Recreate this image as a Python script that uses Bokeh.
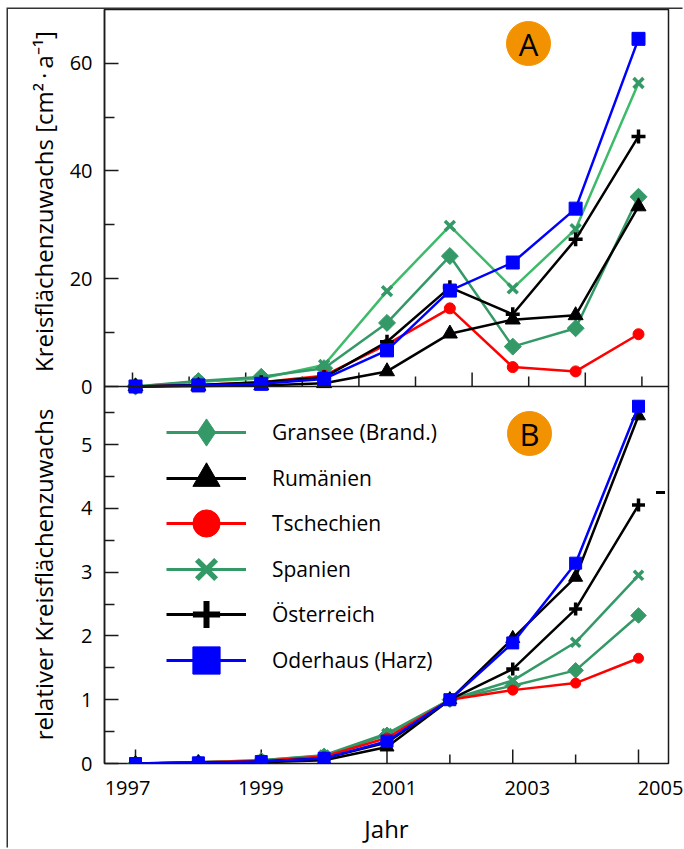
import math
from bokeh.plotting import figure
from bokeh.layouts import row
from bokeh.models import Range1d, LinearAxis, FixedTicker, Span, Label, Legend, LegendItem
from bokeh.embed import file_html
from bokeh.resources import INLINE

# ---------------- data ----------------
years = [1997, 1998, 1999, 2000, 2001, 2002, 2003, 2004, 2005]

# Panel A: Kreisflächenzuwachs [cm²·a⁻¹]
gransee_a     = [0.0, 1.0, 1.8, 3.4, 11.8, 24.2, 7.4, 10.8, 35.2]
rumaenien_a   = [0.0, 0.1, 0.2, 0.6, 2.8, 9.8, 12.4, 13.2, 33.4]
tschechien_a  = [0.0, 0.3, 0.8, 2.0, 7.8, 14.5, 3.6, 2.8, 9.7]
spanien_a     = [0.0, 0.9, 1.5, 4.0, 17.7, 29.8, 18.2, 29.2, 56.3]
oesterreich_a = [0.0, 0.3, 0.8, 1.7, 8.3, 18.4, 13.4, 27.3, 46.4]
oderhaus_a    = [0.0, 0.2, 0.5, 1.4, 6.7, 17.8, 23.0, 33.0, 64.5]

# Panel B: relativer Kreisflächenzuwachs
gransee_b     = [0.0, 0.02, 0.05, 0.12, 0.45, 1.0, 1.22, 1.46, 2.32]
rumaenien_b   = [0.0, 0.01, 0.02, 0.05, 0.26, 1.0, 1.96, 2.92, 5.45]
tschechien_b  = [0.0, 0.02, 0.04, 0.11, 0.40, 1.0, 1.15, 1.26, 1.65]
spanien_b     = [0.0, 0.02, 0.05, 0.13, 0.47, 1.0, 1.30, 1.90, 2.95]
oesterreich_b = [0.0, 0.01, 0.03, 0.08, 0.33, 1.0, 1.48, 2.42, 4.05]
oderhaus_b    = [0.0, 0.01, 0.03, 0.08, 0.35, 1.0, 1.89, 3.14, 5.60]

series_names = ["Gransee (Brand.)", "Rumänien", "Tschechien", "Spanien", "Österreich", "Oderhaus (Harz)"]

a_major_ticks = [0, 20, 40, 60]
a_minor_ticks = [10, 30, 50]
b_major_ticks = [0, 1, 2, 3, 4, 5]
b_minor_ticks = [0.5, 1.5, 2.5, 3.5, 4.5, 5.5]
year_major_ticks = [1997, 1999, 2001, 2003, 2005]
year_minor_ticks = [1998, 2000, 2002, 2004]

title_a = "Kreisflächenzuwachs [cm²\u2009·\u2009a⁻¹]"
title_b = "relativer Kreisflächenzuwachs"
title_x = "Jahr"

# ---------------- layout constants (page pixels) ----------------
FONT = "Open Sans"
PAGE_W, PAGE_H = 684, 849
ORIG_X, ORIG_Y = 8, 9            # top-left of the drawing (outer rule lines)
TITLE_W = 56                      # strip holding the rotated y titles
FRAME_L, FRAME_R, FRAME_T, FRAME_B = 104, 668, 9, 763
X1997_PX, PX_PER_YEAR = 135.0, 62.875
LAB1997_PX, LAB_PX_PER_YEAR = 127.0, 66.625
A_ZERO_PX, PX_PER_A = 386.0, 5.39
PX_PER_B = 63.8
INK = "#1a1a1a"


def px_to_year(px):
    return 1997 + (px - X1997_PX) / PX_PER_YEAR


def py_to_b(py):
    return (FRAME_B - py) / PX_PER_B


def a_to_b(v):
    return (FRAME_B - A_ZERO_PX + v * PX_PER_A) / PX_PER_B


MAIN_X = ORIG_X + TITLE_W
MAIN_W = PAGE_W - MAIN_X
MAIN_H = PAGE_H - ORIG_Y

# ---------------- strip with the two y titles (same vertical frame as the plot) ----------------
tfig = figure(width=TITLE_W, height=MAIN_H,
              x_range=Range1d(0, TITLE_W), y_range=Range1d(PAGE_H - FRAME_B, PAGE_H - FRAME_T),
              x_axis_type=None, y_axis_type=None, output_backend="svg", toolbar_location=None,
              min_border_left=0, min_border_right=0,
              min_border_top=FRAME_T - ORIG_Y, min_border_bottom=PAGE_H - FRAME_B,
              outline_line_color=None, background_fill_color="white", border_fill_color="white")
for txt, cy in [(title_a, 201), (title_b, 574)]:
    tfig.add_layout(Label(x=43 - ORIG_X, y=PAGE_H - cy, text=txt, angle=math.pi / 2,
                          text_align="center", text_baseline="middle",
                          text_font=FONT, text_font_size="24px", text_color="black"))

# ---------------- main plot ----------------
x_range = Range1d(px_to_year(FRAME_L), px_to_year(FRAME_R))
y_range = Range1d(0, py_to_b(FRAME_T))

p = figure(width=MAIN_W, height=MAIN_H, x_range=x_range, y_range=y_range,
           x_axis_type=None, y_axis_type=None,
           output_backend="svg", toolbar_location=None,
           min_border_left=FRAME_L - MAIN_X, min_border_right=PAGE_W - FRAME_R,
           min_border_top=FRAME_T - ORIG_Y, min_border_bottom=PAGE_H - FRAME_B,
           background_fill_color="white", border_fill_color="white",
           outline_line_color=INK, outline_line_width=1.5)

p.extra_y_ranges = {"A": Range1d((A_ZERO_PX - FRAME_B) / PX_PER_A, (A_ZERO_PX - FRAME_T) / PX_PER_A)}
p.extra_x_ranges = {"lab": Range1d(1997 + (FRAME_L - LAB1997_PX) / LAB_PX_PER_YEAR,
                                   1997 + (FRAME_R - LAB1997_PX) / LAB_PX_PER_YEAR)}

# y axis: panel B ticks (0..5) and panel A ticks (0..60) on one axis
y_major = list(b_major_ticks) + [a_to_b(v) for v in a_major_ticks]
y_minor = list(b_minor_ticks) + [a_to_b(v) for v in a_minor_ticks]
overrides = {t: str(t) for t in b_major_ticks}
overrides.update({a_to_b(v): str(v) for v in a_major_ticks})

yaxis = LinearAxis(ticker=FixedTicker(ticks=y_major, minor_ticks=y_minor),
                   major_label_overrides=overrides,
                   major_tick_in=14, major_tick_out=0, minor_tick_in=10, minor_tick_out=0,
                   major_tick_line_width=1.5, minor_tick_line_width=1.5,
                   major_tick_line_color=INK, minor_tick_line_color=INK,
                   axis_line_width=1.5, axis_line_color=INK,
                   major_label_text_font=FONT, major_label_text_font_size="20px",
                   major_label_text_color="black", major_label_standoff=12)
p.add_layout(yaxis, "left")

# x axis: labels (as in the original they sit on their own scale), tick marks drawn at the years
lab_axis = LinearAxis(x_range_name="lab",
                      ticker=FixedTicker(ticks=year_major_ticks, minor_ticks=[]),
                      major_tick_in=0, major_tick_out=0, minor_tick_in=0, minor_tick_out=0,
                      major_tick_line_color=None, minor_tick_line_color=None,
                      axis_line_color=None,
                      major_label_text_font=FONT, major_label_text_font_size="20px",
                      major_label_text_color="black", major_label_standoff=17,
                      axis_label=title_x, axis_label_text_font=FONT,
                      axis_label_text_font_size="24px", axis_label_text_font_style="normal",
                      axis_label_text_color="black", axis_label_standoff=14)
p.add_layout(lab_axis, "below")

# inward year ticks at the bottom of panel B
b_tick_x = year_major_ticks + year_minor_ticks
b_tick_len = [14 / PX_PER_B] * len(year_major_ticks) + [9 / PX_PER_B] * len(year_minor_ticks)
p.segment(x0=b_tick_x, y0=[0] * len(b_tick_x), x1=b_tick_x, y1=b_tick_len,
          line_color=INK, line_width=1.5)

# panel separator (A: y=0)
p.add_layout(Span(location=a_to_b(0), dimension="width", line_color=INK, line_width=1.5))

# inward x ticks at bottom of panel A
a_tick_px = [132 + 56.6 * k for k in range(10)]
a_tick_x = [px_to_year(v) for v in a_tick_px]
a_tick_len = [(14 if k % 2 == 0 else 10) / PX_PER_A for k in range(10)]
p.segment(x0=a_tick_x, y0=[0] * 10, x1=a_tick_x, y1=a_tick_len, y_range_name="A",
          line_color=INK, line_width=1.5)

# ---------------- series ----------------
GREEN = "#339966"
series = [
    dict(name=series_names[3], a=spanien_a, b=spanien_b, line_a="#3dbb6a", line_b=GREEN, color=GREEN,
         marker="x", lmarker="x", size=14, angle=0, mlw=3.5, llw=5.5),
    dict(name=series_names[0], a=gransee_a, b=gransee_b, line_a=GREEN, line_b=GREEN, color=GREEN,
         marker="square", lmarker="diamond", size=12, angle=math.pi / 4, mlw=1, llw=1),
    dict(name=series_names[2], a=tschechien_a, b=tschechien_b, line_a="#ff0000", line_b="#ff0000",
         color="#ff0000", marker="circle", lmarker="circle", size=11, angle=0, mlw=1, llw=1),
    dict(name=series_names[1], a=rumaenien_a, b=rumaenien_b, line_a="black", line_b="black",
         color="black", marker="triangle", lmarker="triangle", size=15, angle=0, mlw=1, llw=1),
    dict(name=series_names[4], a=oesterreich_a, b=oesterreich_b, line_a="black", line_b="black",
         color="black", marker="cross", lmarker="cross", size=14, angle=0, mlw=3.5, llw=6),
    dict(name=series_names[5], a=oderhaus_a, b=oderhaus_b, line_a="#0000ff", line_b="#0000ff",
         color="#0000ff", marker="square", lmarker="square", size=13, angle=0, mlw=1, llw=1),
]

legend_renderers = {}
for s in series:
    p.line(years, s["a"], y_range_name="A", line_color=s["line_a"], line_width=2.5)
    p.scatter(years, s["a"], y_range_name="A", marker=s["marker"], size=s["size"], angle=s["angle"],
              fill_color=s["color"], line_color=s["color"], line_width=s["mlw"])
    p.line(years, s["b"], line_color=s["line_b"], line_width=2.5)
    p.scatter(years, s["b"], marker=s["marker"], size=s["size"] - 1, angle=s["angle"],
              fill_color=s["color"], line_color=s["color"], line_width=s["mlw"])
    # renderers used only to draw the legend glyphs
    lr = p.line(years, s["b"], line_color=s["line_b"], line_width=3, visible=False)
    sr = p.scatter(years, s["b"], marker=s["lmarker"], size=20, fill_color=s["color"],
                   line_color=s["color"], line_width=s["llw"], visible=False)
    legend_renderers[s["name"]] = [lr, sr]

# legend (one box per entry, stacked as in the original)
GLYPH_H = 68
for i, name in enumerate(series_names):
    yc = 432 + i * 45.6
    leg = Legend(items=[LegendItem(label=name, renderers=legend_renderers[name])],
                 location=(166 - FRAME_L, FRAME_B - (yc + GLYPH_H / 2)),
                 glyph_width=80, glyph_height=GLYPH_H, label_standoff=26,
                 padding=0, margin=0, spacing=0,
                 border_line_color=None, background_fill_alpha=0,
                 label_text_font=FONT, label_text_font_size="21px", label_text_color="black")
    p.add_layout(leg)

# ---------------- panel markers A / B ----------------
ORANGE = "#f39200"
for txt, cx, cy in [("A", 528, 43), ("B", 529, 433)]:
    p.scatter([px_to_year(cx)], [py_to_b(cy)], marker="circle", size=44,
              fill_color=ORANGE, line_color=ORANGE)
    p.add_layout(Label(x=px_to_year(cx), y=py_to_b(cy), text=txt, text_font=FONT,
                       text_font_size="31px", text_color="black",
                       text_align="center", text_baseline="middle"))

# small stray dash present in the original figure
p.scatter([px_to_year(660)], [py_to_b(492)], marker="dash", size=9, line_width=3, line_color="black")

layout = row(tfig, p)
layout.styles = {"margin-left": f"{ORIG_X}px", "margin-top": f"{ORIG_Y}px",
                 "box-shadow": "-1.5px -1.5px 0 0 #333333"}

open("out.html", "w").write(file_html(layout, INLINE))
